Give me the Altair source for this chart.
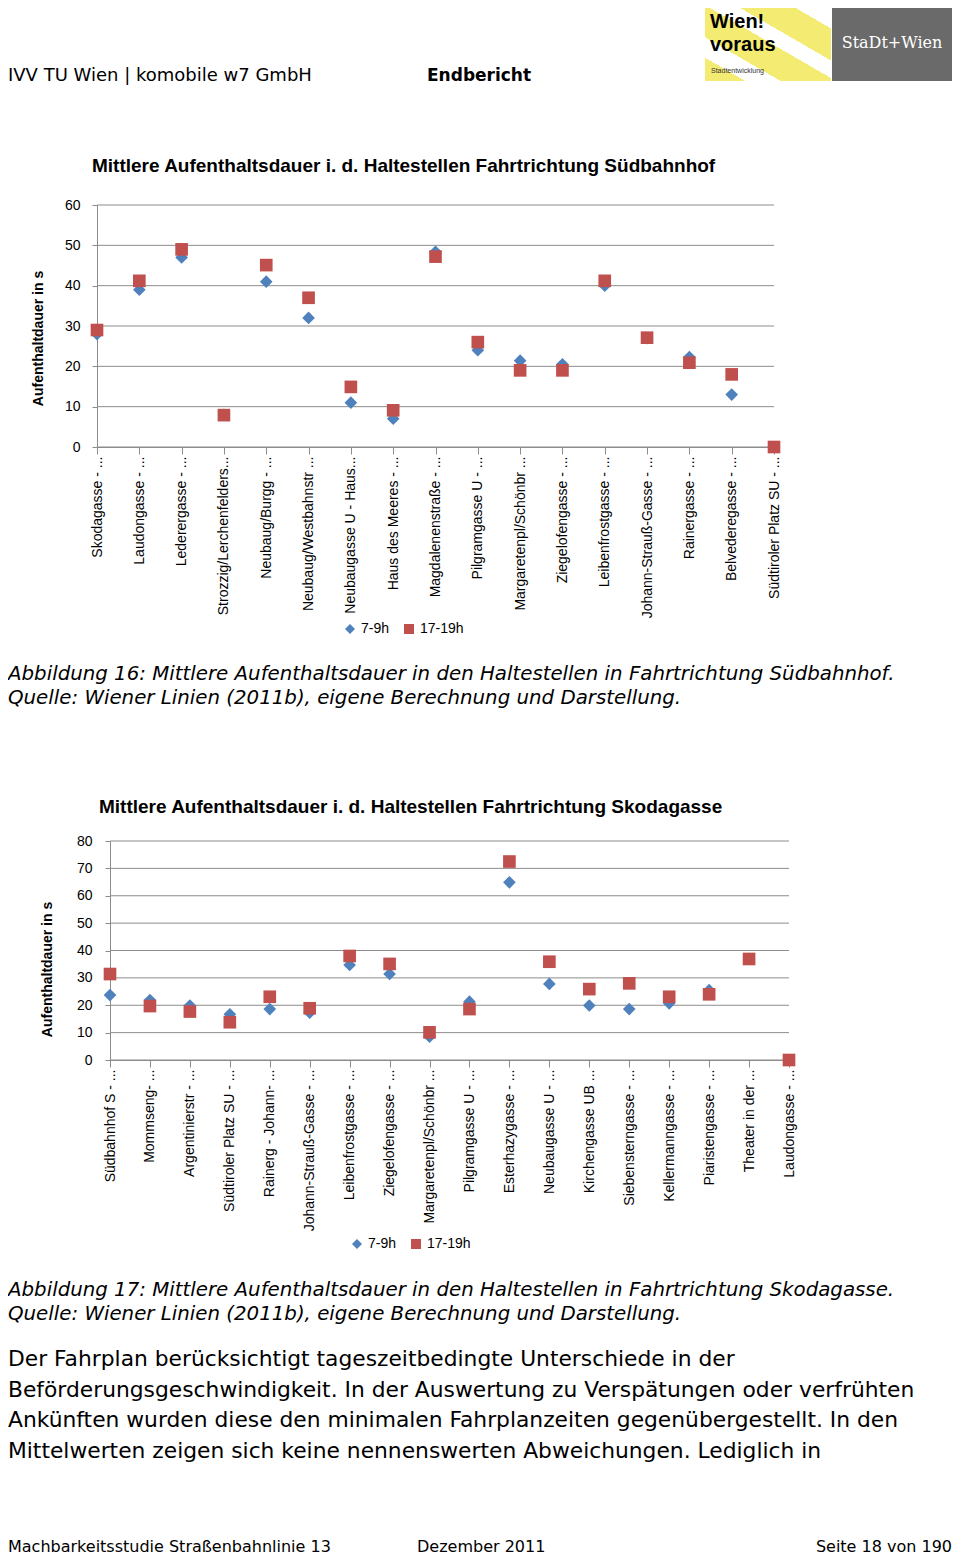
import altair as alt
import pandas as pd

# ---------------- data ----------------
series_names = ["7-9h", "17-19h"]

stops_sued = ["Skodagasse - ...", "Laudongasse - ...", "Lederergasse - ...",
              "Strozzig/Lerchenfelders...", "Neubaug/Burgg - ...", "Neubaug/Westbahnstr ...",
              "Neubaugasse U - Haus...", "Haus des Meeres - ...", "Magdalenenstraße - ...",
              "Pilgramgasse U - ...", "Margaretenpl/Schönbr ...", "Ziegelofengasse - ...",
              "Leibenfrostgasse - ...", "Johann-Strauß-Gasse - ...", "Rainergasse - ...",
              "Belvederegasse - ...", "Südtiroler Platz SU - ..."]
am_sued = [28, 39, 47, 8, 41, 32, 11, 7, 48.4, 24, 21.4, 20.5, 40, 27, 22.3, 13, 0]
pm_sued = [29, 41.2, 49, 7.9, 45.1, 37, 14.9, 9.1, 47.2, 26, 19, 19, 41.2, 27.1, 20.9, 18, 0]
ticks_sued = [0, 10, 20, 30, 40, 50, 60]

stops_skoda = ["Südbahnhof S - ...", "Mommseng- ...", "Argentinierstr - ...",
               "Südtiroler Platz SU - ...", "Rainerg - Johann- ...", "Johann-Strauß-Gasse - ...",
               "Leibenfrostgasse - ...", "Ziegelofengasse - ...", "Margaretenpl/Schönbr ...",
               "Pilgramgasse U - ...", "Esterhazygasse - ...", "Neubaugasse U - ...",
               "Kirchengasse UB ...", "Siebensterngasse - ...", "Kellermanngasse - ...",
               "Piaristengasse - ...", "Theater in der ...", "Laudongasse - ..."]
am_skoda = [23.7, 21.9, 19.9, 16.7, 18.6, 17.3, 34.7, 31.4, 8.5, 21.3, 64.9, 27.8, 19.9, 18.6, 20.7, 25.5, 37, 0]
pm_skoda = [31.4, 19.7, 17.7, 13.8, 23.1, 18.9, 38, 35.1, 10.1, 18.6, 72.5, 35.9, 25.9, 28, 23.1, 24, 36.9, 0]
ticks_skoda = [0, 10, 20, 30, 40, 50, 60, 70, 80]

title_sued = "Mittlere Aufenthaltsdauer  i. d. Haltestellen Fahrtrichtung Südbahnhof"
title_skoda = "Mittlere Aufenthaltsdauer i. d. Haltestellen Fahrtrichtung Skodagasse"
y_title = "Aufenthaltdauer in s"

header_left = "IVV TU Wien | komobile w7 GmbH"
header_mid = "Endbericht"
caption_16 = ["Abbildung 16: Mittlere Aufenthaltsdauer in den Haltestellen in Fahrtrichtung Südbahnhof.",
              "Quelle: Wiener Linien (2011b), eigene Berechnung und Darstellung."]
caption_17 = ["Abbildung 17: Mittlere Aufenthaltsdauer in den Haltestellen in Fahrtrichtung Skodagasse.",
              "Quelle: Wiener Linien (2011b), eigene Berechnung und Darstellung."]
body_lines = ["Der Fahrplan berücksichtigt tageszeitbedingte Unterschiede in der",
              "Beförderungsgeschwindigkeit. In der Auswertung zu Verspätungen oder verfrühten",
              "Ankünften wurden diese den minimalen Fahrplanzeiten gegenübergestellt. In den",
              "Mittelwerten zeigen sich keine nennenswerten Abweichungen. Lediglich in"]
footer = ["Machbarkeitsstudie Straßenbahnlinie 13", "Dezember 2011", "Seite 18 von 190"]

# ---------------- style ----------------
BLUE = "#4F81BD"
RED = "#C0504D"
GRID = "#8C8C8C"
OX, OY = 97, 205          # page position of the first plot's origin
W, H = 677, 242


def px(x):
    return x - OX


def py(y):
    return y - OY


def long_df(stops, am, pm):
    n = len(stops)
    return pd.DataFrame({"stop": stops + stops,
                         "series": [series_names[0]] * n + [series_names[1]] * n,
                         "v": am + pm})


def panel(stops, am, pm, ticks, xr, yr, y_off, x_off, leg_x, leg_y, title_y, lab_pad, title_pad):
    xs = alt.Scale(type="point", domain=stops, range=xr, padding=0)
    ys = alt.Scale(domain=[ticks[0], ticks[-1]], range=yr, nice=False)
    y_axis = alt.Axis(orient="left", offset=y_off, values=ticks, grid=False,
                      domainColor=GRID, tickColor=GRID, tickSize=5, labelFontSize=14,
                      labelFont="Liberation Sans", labelColor="#000", labelPadding=lab_pad,
                      titleFontSize=14, titleFont="Liberation Sans", titleFontWeight="bold",
                      titleColor="#000", titlePadding=title_pad, titleY=title_y)
    grid = alt.Chart(pd.DataFrame({"v": ticks})).mark_rule(color=GRID, strokeWidth=1).encode(
        y=alt.Y("v:Q", scale=ys, title=y_title, axis=y_axis),
        x=alt.value(xr[0]), x2=alt.value(xr[1]))
    legend = alt.Legend(orient="none", legendX=leg_x, legendY=leg_y, direction="horizontal",
                        title=None, labelFontSize=14, labelFont="Liberation Sans", labelColor="#000",
                        symbolSize=100, symbolStrokeWidth=0, columnPadding=12, labelOffset=4,
                        padding=0)
    pts = alt.Chart(long_df(stops, am, pm)).mark_point(
        filled=True, opacity=1, size=160, strokeWidth=0).encode(
        x=alt.X("stop:N", scale=xs, title=None,
                axis=alt.Axis(orient="bottom", offset=x_off, labelAngle=270, labelFontSize=14,
                              labelFont="Liberation Sans", labelColor="#000", labelPadding=2,
                              labelLimit=300, labelOverlap=False, tickSize=7, tickColor=GRID,
                              domainColor=GRID, grid=False)),
        y=alt.Y("v:Q", scale=ys, title=y_title, axis=y_axis),
        color=alt.Color("series:N", scale=alt.Scale(domain=series_names, range=[BLUE, RED]),
                        legend=legend),
        shape=alt.Shape("series:N", scale=alt.Scale(domain=series_names, range=["diamond", "square"]),
                        legend=legend),
    )
    return alt.layer(grid, pts)


def txt(s, x, y, size, font="DejaVu Sans", weight="normal", style="normal",
        color="#000", align="left"):
    return alt.Chart(pd.DataFrame({"t": [s]})).mark_text(
        align=align, baseline="alphabetic", fontSize=size, font=font, fontWeight=weight,
        fontStyle=style, color=color).encode(
        x=alt.value(px(x)), y=alt.value(py(y)), text="t:N")


chart_sued = panel(stops_sued, am_sued, pm_sued, ticks_sued,
                   xr=[0, W], yr=[H, 0], y_off=0, x_off=0,
                   leg_x=246, leg_y=417, title_y=133, lab_pad=12, title_pad=19)
chart_skoda = panel(stops_skoda, am_skoda, pm_skoda, ticks_skoda,
                    xr=[px(110), px(789)], yr=[py(1060), py(841)], y_off=-13, x_off=py(1060) - H,
                    leg_x=253, leg_y=1032, title_y=764, lab_pad=13, title_pad=22)

stripes = alt.LinearGradient(
    gradient="linear", x1=0, y1=1, x2=1, y2=0,
    stops=[alt.GradientStop(offset=0, color="#F3EB72"), alt.GradientStop(offset=0.16, color="#F3EB72"),
           alt.GradientStop(offset=0.16, color="#FFFFFF"), alt.GradientStop(offset=0.3, color="#FFFFFF"),
           alt.GradientStop(offset=0.3, color="#F3EB72"), alt.GradientStop(offset=0.52, color="#F3EB72"),
           alt.GradientStop(offset=0.52, color="#FFFFFF"), alt.GradientStop(offset=0.64, color="#FFFFFF"),
           alt.GradientStop(offset=0.64, color="#F3EB72"), alt.GradientStop(offset=0.86, color="#F3EB72"),
           alt.GradientStop(offset=0.86, color="#FFFFFF"), alt.GradientStop(offset=1, color="#FFFFFF")])

logo_yellow = alt.Chart(pd.DataFrame({"t": [""]})).mark_rect(color=stripes).encode(
    x=alt.value(px(705)), x2=alt.value(px(831)), y=alt.value(py(8)), y2=alt.value(py(81)))
logo_gray = alt.Chart(pd.DataFrame({"t": [""]})).mark_rect(color="#6A6A6A").encode(
    x=alt.value(px(832)), x2=alt.value(px(952)), y=alt.value(py(8)), y2=alt.value(py(81)))

texts = [
    logo_yellow, logo_gray,
    txt("Wien!", 710, 28, 20, font="Liberation Sans", weight="bold"),
    txt("voraus", 710, 51, 20, font="Liberation Sans", weight="bold"),
    txt("Stadtentwicklung", 711, 73, 7, font="Liberation Sans", color="#333"),
    txt("StaDt+Wien", 892, 48, 16, font="DejaVu Serif", color="#FFFFFF", align="center"),
    txt(header_left, 8, 81, 18),
    txt(header_mid, 427, 81, 17, weight="bold"),
    txt(title_sued, 92, 172, 19, font="Liberation Sans", weight="bold"),
    txt(caption_16[0], 8, 680, 19.8, style="italic"),
    txt(caption_16[1], 8, 704, 19.8, style="italic"),
    txt(title_skoda, 99, 813, 19, font="Liberation Sans", weight="bold"),
    txt(caption_17[0], 8, 1296, 19.8, style="italic"),
    txt(caption_17[1], 8, 1320, 19.8, style="italic"),
    txt(body_lines[0], 8, 1366, 21.8),
    txt(body_lines[1], 8, 1397, 21.8),
    txt(body_lines[2], 8, 1427, 21.8),
    txt(body_lines[3], 8, 1458, 21.8),
    txt(footer[0], 8, 1552, 16),
    txt(footer[1], 417, 1552, 16),
    txt(footer[2], 952, 1552, 16, align="right"),
]

chart = alt.layer(chart_sued, chart_skoda, *texts).resolve_scale(
    x="independent", y="independent", color="independent", shape="independent"
).properties(width=W, height=H, padding=0).configure(font="Liberation Sans").configure_view(stroke=None)

chart.save("out.html", embed_options={"renderer": "svg", "actions": False})
